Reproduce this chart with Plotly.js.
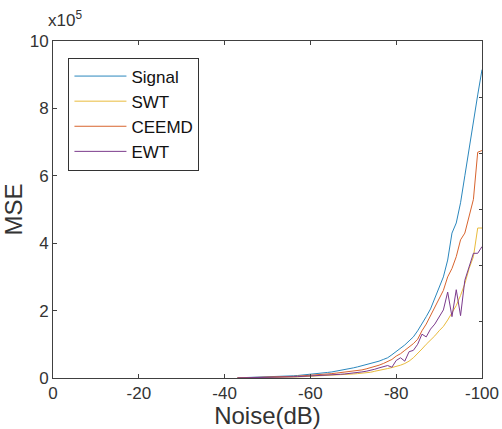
<!DOCTYPE html>
<html>
<head>
<meta charset="utf-8">
<script src="https://cdn.plot.ly/plotly-3.0.1.min.js"></script>
<style>html,body{margin:0;padding:0;background:#fff;}#chart{width:502px;height:429px;}</style>
</head>
<body>
<div id="chart"></div>
<script>
// Noise level (dB)
const noiseDB = [-43,-44,-45,-46,-47,-48,-49,-50,-51,-52,-53,-54,-55,-56,-57,-58,-59,-60,-61,-62,-63,-64,-65,-66,-67,-68,-69,-70,-71,-72,-73,-74,-75,-76,-77,-78,-79,-80,-81,-82,-83,-84,-85,-86,-87,-88,-89,-90,-91,-92,-93,-94,-95,-96,-97,-98,-99,-100];
// MSE values in units of 1e5
const signalMSE = [0.005,0.008,0.01,0.013,0.016,0.02,0.024,0.028,0.033,0.038,0.044,0.05,0.057,0.065,0.074,0.084,0.095,0.107,0.12,0.135,0.15,0.165,0.18,0.2,0.22,0.245,0.27,0.3,0.33,0.36,0.4,0.43,0.46,0.5,0.55,0.6,0.69,0.78,0.88,0.98,1.1,1.22,1.4,1.6,1.82,2.05,2.35,2.7,3.0,3.5,4.3,4.6,5.2,6.0,6.85,7.55,8.4,9.15];
const swtMSE = [0.002,0.003,0.004,0.005,0.006,0.008,0.01,0.012,0.014,0.016,0.019,0.022,0.025,0.029,0.033,0.038,0.043,0.048,0.053,0.058,0.064,0.07,0.077,0.085,0.093,0.1,0.11,0.12,0.13,0.14,0.15,0.17,0.2,0.22,0.25,0.28,0.31,0.34,0.38,0.43,0.5,0.6,0.72,0.86,1.0,1.12,1.25,1.4,1.53,1.72,1.92,2.15,2.45,2.8,3.25,3.6,4.45,4.45];
const ceemdMSE = [0.003,0.005,0.007,0.009,0.011,0.014,0.017,0.02,0.024,0.028,0.032,0.037,0.042,0.048,0.055,0.062,0.07,0.078,0.087,0.097,0.108,0.12,0.13,0.145,0.16,0.175,0.19,0.2,0.22,0.24,0.27,0.3,0.34,0.38,0.43,0.48,0.55,0.65,0.72,0.82,0.92,1.02,1.15,1.4,1.6,1.85,2.1,2.35,2.6,3.0,3.25,3.6,4.1,4.3,4.8,5.3,6.7,6.75];
const ewtMSE = [0.003,0.004,0.006,0.007,0.009,0.011,0.013,0.015,0.018,0.021,0.024,0.027,0.031,0.035,0.04,0.045,0.05,0.056,0.062,0.068,0.075,0.083,0.09,0.1,0.11,0.12,0.13,0.15,0.16,0.18,0.2,0.22,0.26,0.3,0.33,0.37,0.32,0.52,0.6,0.5,0.78,0.82,1.0,1.3,1.22,1.45,1.6,1.82,2.02,2.55,1.82,2.62,1.85,2.9,3.3,3.7,3.7,3.9];

const seriesNames = ['Signal','SWT','CEEMD','EWT'];
const seriesColors = ['#2b87bd','#e9bb3c','#d8642e','#7b3a8c'];
const seriesValues = [signalMSE, swtMSE, ceemdMSE, ewtMSE];

const xTickVals = [0,-20,-40,-60,-80,-100];
const xTickText = ['0','-20','-40','-60','-80','-100'];
const yTickVals = [0,2,4,6,8,10];
const yTickText = ['0','2','4','6','8','10'];

const FONT = 'Liberation Sans, Arial, sans-serif';
const AX = '#404040';

const traces = seriesNames.map((n,i)=>({
  type:'scatter', mode:'lines', name:n,
  x: noiseDB, y: seriesValues[i],
  line:{color:seriesColors[i], width:1}
}));
traces.push({type:'scatter', mode:'lines', x:[], y:[], yaxis:'y2', showlegend:false, hoverinfo:'skip'});

const layout = {
  width:502, height:429,
  margin:{l:53, r:20, t:41, b:51},
  paper_bgcolor:'#fff', plot_bgcolor:'#fff',
  font:{family:FONT, color:'#262626'},
  showlegend:true,
  legend:{x:0.036, y:0.951, xanchor:'left', yanchor:'top',
    bgcolor:'#fff', bordercolor:'#333', borderwidth:1,
    font:{family:FONT, size:17, color:'#111'}, tracegroupgap:0, itemwidth:52},
  xaxis:{range:[0,-100], tickvals:xTickVals, ticktext:xTickText,
    showline:true, linecolor:AX, linewidth:1, mirror:'ticks',
    ticks:'inside', ticklen:4, tickcolor:AX, showgrid:false, zeroline:false,
    tickfont:{size:17, color:'#333'},
    title:{text:'Noise(dB)', font:{size:24, color:'#333'}, standoff:4}},
  yaxis:{range:[0,10], tickvals:yTickVals, ticktext:yTickText,
    showline:true, linecolor:AX, linewidth:1, mirror:true,
    ticks:'inside', ticklen:4, tickcolor:AX, showgrid:false, zeroline:false,
    tickfont:{size:17, color:'#333'},
    title:{text:'MSE', font:{size:24, color:'#333'}, standoff:3}},
  yaxis2:{overlaying:'y', side:'right', range:[0,6], dtick:1,
    ticks:'inside', ticklen:3, tickcolor:AX, showticklabels:false,
    showline:false, showgrid:false, zeroline:false},
  annotations:[{xref:'paper', yref:'paper', x:-0.016, y:1.065, xanchor:'left', yanchor:'middle',
    text:'x10<sup>5</sup>', showarrow:false, font:{family:FONT, size:17, color:'#333'}}]
};

Plotly.newPlot('chart', traces, layout, {displayModeBar:false, staticPlot:true});
</script>
</body>
</html>
